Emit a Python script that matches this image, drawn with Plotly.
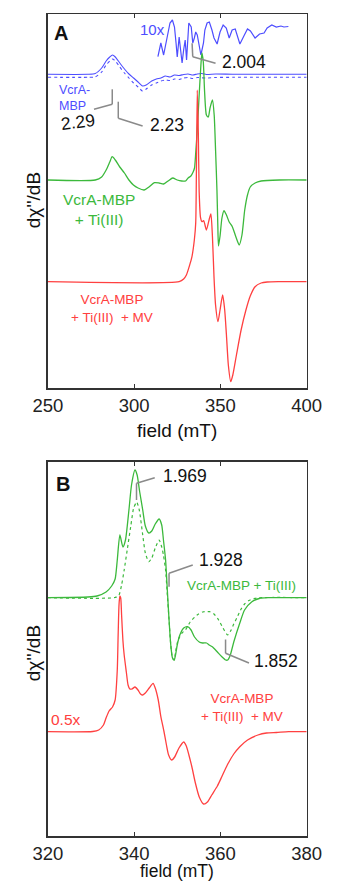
import plotly.graph_objects as go

W, H = 339, 883
FONT = "Liberation Sans, Arial, sans-serif"
BLUE = "#4d4dff"
GREEN = "#3cb93c"
RED = "#ff4040"
GRAY = "#8a8a8a"

# ---------------- Panel A (250-400 mT) ----------------
a_blue_field = [250, 273.2, 277.5, 281.2, 283.8, 285.9, 287.5, 289.1, 291.7, 294.4,
                297.0, 299.7, 302.3, 304.9, 307.0, 310.2, 312.9, 315.5, 318.1, 320.8,
                323.4, 326.1, 328.7, 331.3, 334.0, 336.6, 339.3, 341.9, 347.2, 357.8, 400]
a_blue_solid = [0, 0, 0.8, 6.3, 13.3, 17.3, 19.3, 17.3, 11.3, 5.3,
                0.3, -3.7, -7.7, -11.7, -10.7, -6.7, -4.7, -3.7, -1.7, -2.7,
                -0.7, -1.2, -0.2, 0.3, -0.7, 0.3, 0.8, -0.2, 0.3, 0, 0]
a_blue_dashed = [0, 0, 0.3, 5.3, 12.3, 16.3, 18.3, 16.3, 10.3, 4.3,
                 -0.7, -5.7, -9.7, -13.7, -11.7, -7.7, -5.7, -3.7, -2.7, -3.2,
                 -1.7, -2.2, -0.7, -0.2, -1.2, -0.2, -0.5, -0.7, -0.2, 0, 0]

a_blue10_field = [313.8, 315.5, 317.1, 319.0, 320.8, 322.2, 323.4, 324.3, 325.0, 326.1,
                  327.0, 327.8, 328.7, 329.6, 330.4, 331.7, 333.1, 334.0, 334.9, 335.7,
                  336.6, 337.5, 338.7, 340.2, 341.0, 342.3, 343.6, 345.1, 346.3, 348.1,
                  349.8, 351.6, 353.4, 355.1, 356.8, 358.6, 361.3, 363.9, 365.7, 367.4,
                  370.1, 372.7, 375.3, 377.1, 379.8, 382.4, 385.1, 386.8, 389.4]
a_blue10 = [-21.7, -8, -20, -5, 12, 15, 8, -8, -22, -2,
            -15, -28, -15, -5, -25, 12, 8, -8, -3, 3,
            0, -10, -20, -8, 5, 12, 13, 5, -3, -9,
            3, 10, 7, -3, 5, 6, -9, 0, 6, 4,
            -3, 1, 2, 7, 10, 8, 9, 8, 8.5]

a_green_field = [250, 277.5, 281.2, 283.8, 285.9, 287.3, 289.1, 291.7, 294.4, 297.0,
                 299.6, 302.3, 305.8, 308.6, 311.8, 314.4, 317.1, 319.7, 322.4, 325.0,
                 327.6, 329.8, 331.3, 332.9, 334.2, 335.0, 335.7, 336.6, 337.7, 338.7,
                 339.3, 340.1, 340.8, 341.9, 343.0, 344.0, 345.4, 346.4, 347.2, 348.0,
                 348.5, 348.9, 349.8, 350.9, 352.1, 353.5, 355.1, 356.9, 358.8, 360.9,
                 362.5, 364.1, 365.7, 367.3, 370.1, 373.6, 384.2, 400]
a_green = [0, 0, 3, 10, 18, 23.3, 20, 13, 7, 0,
           -5, -8, -10, -7, -2.7, -3, -4, -1, 2, 0,
           -1, -1, 2, 4, 8, 12, 27, 50, 85, 115,
           127, 118, 90, 65, 63, 72, 80, 65, 30, -10,
           -45, -66, -56, -38, -30.7, -35, -42, -46.7, -56, -65,
           -55, -30, -15, -7, -3, -1, 0, 0]

a_red_field = [250, 326.1, 328.7, 330.3, 332.2, 333.4, 334.9, 335.7, 336.1, 336.6,
               337.2, 337.7, 338.5, 339.3, 340.3, 341.9, 343.6, 344.5, 345.4, 346.3,
               347.2, 348.6, 349.8, 351.3, 352.5, 353.5, 354.6, 356.0, 357.2, 359.3,
               362.0, 364.8, 367.3, 370.1, 373.6, 377.1, 384.2, 400]
a_red = [0, 0, 2.7, 6.7, 16.7, 24, 41.7, 58.7, 110, 191.7,
         150, 90, 64, 60, 61, 51.7, 63, 67.7, 44.7, 4.7,
         -23.3, -40, -28.3, -13.3, -28.3, -53.3, -83.3, -100, -93.3, -73.3,
         -48.3, -28.3, -14.3, -5, -1.3, -0.3, 0, 0]

# vertical offsets of the stacked spectra (arbitrary units)
A_OFF_BLUE_SOLID = 313.7
A_OFF_BLUE_DASHED = 310.7
A_OFF_BLUE10 = 353
A_OFF_GREEN = 208
A_OFF_RED = 106.3

# ---------------- Panel B (320-380 mT) ----------------
b_green_field = [320.0, 329.3, 331.4, 333.5, 334.8, 335.6, 336.1, 336.7, 337.4, 338.0,
                 338.8, 339.4, 340.2, 340.7, 341.3, 342.0, 342.6, 343.4, 344.1, 344.9,
                 345.8, 346.4, 346.8, 347.3, 347.7, 348.1, 348.5, 348.9, 349.3, 349.6,
                 350.0, 350.6, 351.5, 352.4, 353.2, 354.0, 355.1, 355.9, 356.8, 357.4,
                 358.2, 359.3, 360.4, 361.2, 361.7, 362.3, 363.1, 364.5, 365.6, 367.3,
                 369.0, 370.9, 380.0]
b_green = [0, 0.7, 1.7, 5.7, 11.7, 18.7, 37.7, 62.7, 50.7, 57.7,
           87.7, 112.7, 127.7, 122.7, 105.7, 87.7, 71.7, 64.7, 66.7, 73.7,
           78.7, 72.7, 57.7, 37.7, 7.7, -22.3, -47.3, -60.3, -62.3, -57.3,
           -47.3, -37.3, -30.3, -29, -32.3, -39.3, -44.3, -45.3, -45.3, -47.3,
           -49.3, -54.3, -59.3, -62.3, -62.3, -57.3, -44.3, -25.3, -12.3, -4,
           -0.8, 0, 0]

b_green_sim_field = [320.0, 335.6, 336.5, 337.1, 337.7, 338.4, 339.2, 339.9, 340.6, 341.2,
                     342.0, 342.6, 343.4, 344.1, 344.9, 345.8, 346.4, 346.8, 347.3, 347.7,
                     348.1, 348.5, 348.9, 349.3, 349.6, 350.2, 351.1, 351.9, 353.0, 354.6,
                     355.9, 357.5, 358.5, 359.6, 360.6, 361.7, 362.5, 363.1, 363.8, 364.8,
                     365.6, 366.6, 368.4, 380.0]
b_green_sim = [0, 0.2, 2.7, 12.7, 27.7, 47.7, 70.7, 89.7, 95.7, 87.7,
               62.7, 44.7, 36, 39.7, 49.7, 57.7, 50.7, 42.7, 27.7, 2.7,
               -22.3, -47.3, -60.3, -62.3, -54.3, -42.3, -35.3, -32.3, -24.3, -17.3,
               -14.3, -14, -16.3, -22.3, -30.3, -37.3, -32.3, -26.3, -20.3, -11.3,
               -6.3, -2.8, -0.3, 0]

b_red_field = [320.0, 330.4, 331.8, 332.9, 333.5, 334.2, 335.0, 335.6, 336.1, 336.3,
               336.5, 336.7, 336.9, 337.1, 337.4, 337.7, 338.2, 338.6, 339.0, 339.5,
               340.2, 340.9, 341.5, 342.0, 342.6, 343.5, 344.4, 344.9, 345.6, 346.2,
               346.9, 347.5, 348.0, 348.7, 349.4, 350.4, 351.5, 352.1, 352.7, 353.4,
               354.2, 355.1, 356.1, 357.0, 358.0, 359.3, 360.3, 361.6, 363.1, 364.5,
               366.3, 368.7, 370.7, 373.0, 375.8, 380.0]
b_red = [0, 0.2, 1.7, 6.7, 13.7, 20.7, 24.7, 31.7, 61.7, 96.7,
         126.7, 135.7, 133.7, 116.7, 91.7, 76.7, 59.7, 46.7, 42.7, 42.7,
         44.7, 41.7, 37.7, 36.7, 38.7, 43.7, 48.4, 43.7, 31.7, 15,
         0.7, -13.3, -23.3, -28.3, -25.3, -16.3, -10.3, -14.3, -23.3, -35.3,
         -51.3, -65.3, -72.3, -70.3, -63.3, -54.3, -45.3, -33.3, -22.3, -15,
         -8.3, -3.3, -1.3, -0.8, 0, 0]

B_OFF_GREEN = 238.3
B_OFF_RED = 104.3

a_ticks = [250, 300, 350, 400]
b_ticks = [320, 340, 360, 380]


def shift(vals, off):
    return [v + off for v in vals]


fig = go.Figure()


def line(x, y, color, xa, ya, dash="solid", width=1.3, shape="spline"):
    fig.add_trace(go.Scatter(x=x, y=y, mode="lines", xaxis=xa, yaxis=ya,
                             line=dict(color=color, width=width, dash=dash, shape=shape,
                                       smoothing=0.6 if shape == "spline" else None),
                             showlegend=False, hoverinfo="skip"))


# Panel A traces
line(a_blue_field, shift(a_blue_dashed, A_OFF_BLUE_DASHED), BLUE, "x", "y", dash="dot", width=1.1)
line(a_blue_field, shift(a_blue_solid, A_OFF_BLUE_SOLID), BLUE, "x", "y", width=1.1)
line(a_blue10_field, shift(a_blue10, A_OFF_BLUE10), BLUE, "x", "y", width=1.2, shape="linear")
line(a_green_field, shift(a_green, A_OFF_GREEN), GREEN, "x", "y")
line(a_red_field, shift(a_red, A_OFF_RED), RED, "x", "y")

# Panel B traces
line(b_green_sim_field, shift(b_green_sim, B_OFF_GREEN), GREEN, "x2", "y2", dash="dot", width=1.2)
line(b_green_field, shift(b_green, B_OFF_GREEN), GREEN, "x2", "y2")
line(b_red_field, shift(b_red, B_OFF_RED), RED, "x2", "y2")


def P(x, y):
    return x / W, 1 - y / H


axis_common = dict(showline=True, linecolor="#333333", linewidth=1.5, mirror="ticks",
                   ticks="inside", ticklen=4, tickwidth=1.2, tickcolor="#333333",
                   showgrid=False, zeroline=False,
                   tickfont=dict(family=FONT, size=18.5, color="#222222"))
yaxis_common = dict(showline=True, linecolor="#333333", linewidth=1.5, mirror=True,
                    ticks="", showticklabels=False, showgrid=False, zeroline=False)

xl, xr = 36 / W, 320 / W
fig.update_layout(
    width=W, height=H, margin=dict(l=0, r=0, t=0, b=0),
    paper_bgcolor="white", plot_bgcolor="white",
    font=dict(family=FONT),
    xaxis=dict(domain=[xl, xr], range=[250, 400], tickvals=a_ticks, anchor="y", **axis_common),
    yaxis=dict(domain=[1 - 388 / H, 1 - 14 / H], range=[0, 374], anchor="x", **yaxis_common),
    xaxis2=dict(domain=[xl, xr], range=[320, 380], tickvals=b_ticks, anchor="y2", **axis_common),
    yaxis2=dict(domain=[1 - 836 / H, 1 - 461.7 / H], range=[0, 374.3], anchor="x2", **yaxis_common),
)

anns = []


def text(t, x, y, size, color="#111111", bold=False, xanchor="center", align="center", angle=0):
    px_, py_ = P(x, y)
    anns.append(dict(text=("<b>%s</b>" % t) if bold else t, x=px_, y=py_, xref="paper", yref="paper",
                     xanchor=xanchor, yanchor="middle", align=align, showarrow=False, textangle=angle,
                     font=dict(family=FONT, size=size, color=color)))


# Panel A labels
text("A", 50, 33, 20, bold=True)
text("10x", 150.5, 29, 15, color=BLUE)
text("VcrA-<br>MBP", 46, 98, 12.5, color=BLUE, xanchor="left", align="left")
text("2.29", 69, 122, 17.5, angle=-7)
text("2.23", 167, 124.5, 17.5)
text("2.004", 251, 62.5, 17.5)
text("VcrA-MBP<br>+ Ti(III)", 92.5, 209.5, 15.5, color=GREEN)
text("VcrA-MBP<br>+ Ti(III)  + MV", 106.7, 308.5, 13.5, color=RED)
text("dχ''/dB", 20, 200, 19, angle=-90)
text("field (mT)", 178, 430, 19)

# Panel B labels
text("B", 52.5, 484, 20, bold=True)
text("1.969", 186, 476, 17.5)
text("1.928", 226, 560, 17.5)
text("VcrA-MBP + Ti(III)", 248.3, 585, 13.5, color=GREEN)
text("1.852", 286, 661, 17.5)
text("VcrA-MBP<br>+ Ti(III)  + MV", 249, 707, 13.5, color=RED)
text("0.5x", 55.5, 719, 15.5, color=RED)
text("dχ''/dB", 20, 653, 19, angle=-90)
text("field (mT)", 178, 871, 17.5)

fig.update_layout(annotations=anns)

# leader lines (gray)
leaders = [
    [(86.7, 109.3), (106.7, 104.3), (106.7, 89.3)],
    [(113.3, 101.7), (113.3, 118.3), (140, 126)],
    [(194.3, 43.3), (195, 56.7), (220, 63.3)],
    [(133.3, 500), (133.3, 483.3), (153.3, 477.7)],
    [(169, 586.7), (169, 573.3), (195, 565)],
    [(231, 639.5), (231, 653.3), (256.7, 663)],
]
shapes = []
for pts in leaders:
    for (x0, y0), (x1, y1) in zip(pts[:-1], pts[1:]):
        a0, b0 = P(x0, y0)
        a1, b1 = P(x1, y1)
        shapes.append(dict(type="line", xref="paper", yref="paper", x0=a0, y0=b0, x1=a1, y1=b1,
                           line=dict(color=GRAY, width=1.5)))
fig.update_layout(shapes=shapes)

fig.write_html("out.html", config={"displayModeBar": False, "staticPlot": True},
               post_script="document.body.style.margin='0';document.body.style.overflow='hidden';")
